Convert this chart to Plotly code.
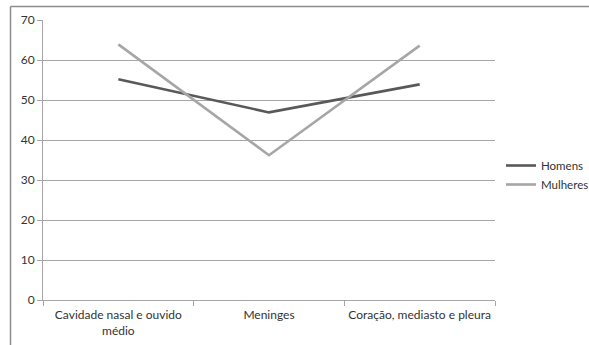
import plotly.graph_objects as go

categories = ["Cavidade nasal e ouvido<br>médio", "Meninges", "Coração, mediasto e pleura"]
homens = [55.2, 46.9, 53.9]
mulheres = [63.9, 36.2, 63.6]
y_ticks = [0, 10, 20, 30, 40, 50, 60, 70]

fig = go.Figure()
fig.add_trace(go.Scatter(x=categories, y=homens, name="Homens", mode="lines",
                         line=dict(color="#595959", width=2.6)))
fig.add_trace(go.Scatter(x=categories, y=mulheres, name="Mulheres", mode="lines",
                         line=dict(color="#a6a6a6", width=2.6)))

W, H = 589, 345
ml, mr, mt, mb = 43, 94, 20, 45
pw, ph = W - ml - mr, H - mt - mb

def px(x):
    return (x - ml) / pw

def py(y):
    return (H - mb - y) / ph

border = dict(color="#8c8c8c", width=1.5)
fig.add_shape(type="line", xref="paper", yref="paper", x0=px(10.5), x1=px(W + 5),
              y0=py(6.5), y1=py(6.5), line=border)
fig.add_shape(type="line", xref="paper", yref="paper", x0=px(10.5), x1=px(10.5),
              y0=py(6.5), y1=py(H + 5), line=border)

fig.update_layout(
    width=W, height=H,
    margin=dict(l=ml, r=mr, t=mt, b=mb, autoexpand=False),
    paper_bgcolor="white", plot_bgcolor="white",
    font=dict(family="Lato, Liberation Sans, sans-serif", size=12, color="#333333"),
    showlegend=True,
    legend=dict(x=px(501), y=py(175), xanchor="left", yanchor="middle",
                bgcolor="rgba(0,0,0,0)", itemwidth=30, tracegroupgap=4,
                font=dict(size=11.5, color="#333333")),
    xaxis=dict(type="category", showgrid=False, showline=True, linecolor="#a6a6a6",
               linewidth=1, ticks="outside", tickson="boundaries", ticklen=5,
               tickcolor="#a6a6a6", range=[-0.5, 2.5], fixedrange=True,
               tickangle=0, automargin=False, ticklabelstandoff=4),
    yaxis=dict(range=[0, 70], tickvals=y_ticks, showgrid=True, gridcolor="#a6a6a6",
               gridwidth=1, showline=True, linecolor="#a6a6a6", linewidth=1,
               ticks="outside", ticklen=5, tickcolor="#a6a6a6", zeroline=False,
               fixedrange=True, automargin=False),
)

fig.write_html("out.html")
